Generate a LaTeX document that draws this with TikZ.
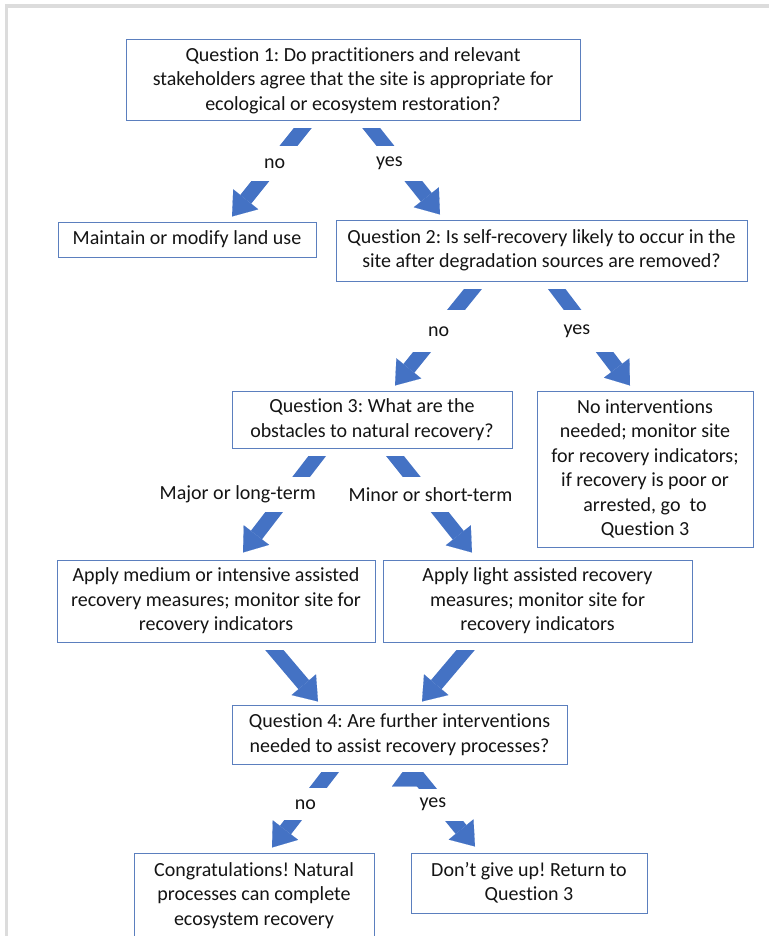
\documentclass[tikz,border=0pt]{standalone}
\usepackage{fontspec}
\setmainfont{Carlito}[Ligatures=NoCommon]
\usetikzlibrary{arrows.meta,backgrounds}
\definecolor{arrowblue}{HTML}{4472C4}
\definecolor{boxblue}{HTML}{5B7FBE}
\definecolor{framegray}{HTML}{DCDCDC}
\definecolor{textgray}{HTML}{141414}
\frenchspacing

\begin{document}
\begin{tikzpicture}[x=1pt,y=-1pt,
    box/.style={draw=boxblue,line width=1pt,fill=white,align=center,inner xsep=4pt,inner ysep=2pt,
      text=textgray,font=\fontsize{20}{24.5}\selectfont},
    bigarrow/.style={draw=arrowblue,line width=14pt,
      -{Triangle[width=32pt,length=22pt,line width=0.1pt,color=arrowblue,fill=arrowblue]}},
    lbl/.style={fill=white,text=textgray,font=\fontsize{20}{24.5}\selectfont,
      minimum height=35pt,minimum width=60pt,inner xsep=3pt}]
    \useasboundingbox (0,0) rectangle (769,936);
    \fill[framegray] (5,4) rectangle (769,8);
    \fill[framegray] (5,4) rectangle (8,936);

    \node[box, minimum width=454pt, minimum height=81pt] at (353, 80.5) (q1)
      {Question 1: Do practitioners and relevant\\ stakeholders agree that the site is appropriate for\\ ecological or ecosystem restoration?};
    \node[box, minimum width=258pt, minimum height=35pt] at (187, 239.5) (maint)
      {Maintain or modify land use};
    \node[box, minimum width=411pt, minimum height=61pt] at (541.5, 250.5) (q2)
      {Question 2: Is self-recovery likely to occur in the\\ site after degradation sources are removed?};
    \node[box, minimum width=280pt, minimum height=57pt] at (372, 419.5) (q3)
      {Question 3: What are the\\ obstacles to natural recovery?};
    \node[box, minimum width=216pt, minimum height=156pt] at (645, 469) (noint)
      {No interventions\\ needed; monitor site\\ for recovery indicators;\\ if recovery is poor or\\ arrested, go\ \ to\\ Question 3};
    \node[box, minimum width=318pt, minimum height=82pt] at (216, 601) (medium)
      {Apply medium or intensive assisted\\ recovery measures; monitor site for\\ recovery indicators};
    \node[box, minimum width=309pt, minimum height=82pt] at (537.5, 601) (light)
      {Apply light assisted recovery\\ measures; monitor site for\\ recovery indicators};
    \node[box, minimum width=335pt, minimum height=59pt] at (399.5, 734.5) (q4)
      {Question 4: Are further interventions\\ needed to assist recovery processes?};
    \node[box, minimum width=240pt, minimum height=85pt] at (254, 895.5) (congrats)
      {Congratulations! Natural\\ processes can complete\\ ecosystem recovery};
    \node[box, minimum width=236pt, minimum height=60pt] at (529, 883) (dontgive)
      {Don’t give up! Return to\\ Question 3};

    \begin{scope}[on background layer]
    \draw[bigarrow]
      ([xshift=-45pt]q1.south) edge node[lbl,pos=0.44]{no} ([shift={(45pt,5pt)}]maint.north)
      ([xshift=13pt]q1.south) edge node[lbl,pos=0.45,xshift=-10pt,minimum width=80pt]{yes} ([shift={(-101.5pt,5pt)}]q2.north)
      ([xshift=-62.5pt]q2.south) edge node[lbl,pos=0.48,minimum height=42pt]{no} ([shift={(23pt,5pt)}]q3.north)
      ([xshift=9.5pt]q2.south) edge node[lbl,pos=0.48,xshift=-12pt,minimum width=80pt,minimum height=42pt]{yes} ([shift={(-15pt,5pt)}]noint.north)
      ([xshift=-49pt]q3.south) edge node[lbl,pos=0.44,xshift=-50pt]{Major or long-term} ([shift={(27pt,7pt)}]medium.north)
      ([xshift=17pt]q3.south) edge node[lbl,pos=0.44,xshift=5pt]{Minor or short-term} ([shift={(-65.5pt,7pt)}]light.north)
      ([xshift=52pt]medium.south) edge ([shift={(-81.5pt,3pt)}]q4.north)
      ([xshift=-65.5pt]light.south) edge ([shift={(22.5pt,3pt)}]q4.north)
      ([xshift=-63.5pt]q4.south) edge node[lbl,pos=0.48,minimum height=32pt]{no} ([shift={(18pt,5pt)}]congrats.north)
      ([xshift=8.5pt]q4.south) edge node[lbl,pos=0.49,xshift=-8pt,minimum width=76pt,minimum height=32pt]{yes} ([shift={(-54pt,6pt)}]dontgive.north);
    \foreach \n in {q1,q2,q3,medium,light,q4}
      \fill[white] (\n.south west) rectangle ([yshift=-7pt]\n.south east);
    \end{scope}
\end{tikzpicture}
\end{document}
